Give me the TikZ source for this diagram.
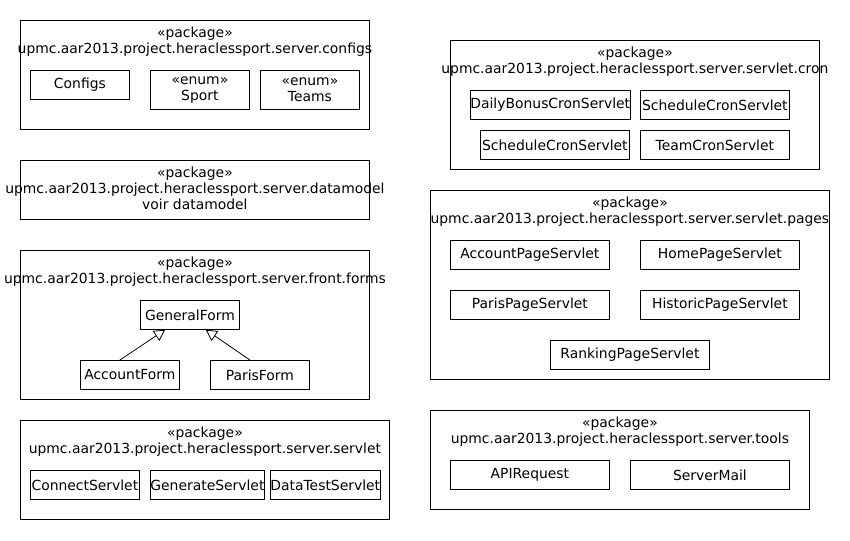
\documentclass[tikz,border=0pt]{standalone}
\usepackage{fontspec}
\setmainfont{DejaVu Sans}
\usetikzlibrary{arrows.meta, positioning}

\begin{document}
\begin{tikzpicture}[x=1pt, y=-1pt, line width=0.8pt,
    font=\fontsize{13.9}{16}\selectfont,
    pkg/.style={draw, anchor=north west, inner sep=0pt},
    pkgname/.style={anchor=north, align=center, inner sep=0pt, yshift=-7pt},
    cls/.style={draw, anchor=north west, inner sep=0pt, align=center},
    inherit/.style={-{Triangle[open, length=11pt, width=12pt]}}]
    \useasboundingbox (0,0) rectangle (850,540);

    % server.configs
    \node[pkg, minimum width=349pt, minimum height=109pt] (configs) at (20,20) {};
    \node[pkgname] (configsName) at (configs.north) {«package»\\upmc.aar2013.project.heraclessport.server.configs};
    \node[cls, minimum width=99pt, minimum height=29pt] (configsCls) at (30,70) {Configs};
    \node[cls, minimum width=99pt, minimum height=39pt] (sport) at (150,70) {«enum»\\Sport};
    \node[cls, minimum width=99pt, minimum height=39pt] (teams) at (260,70) {«enum»\\Teams};

    % server.datamodel
    \node[pkg, minimum width=349pt, minimum height=59pt] (datamodel) at (20,160) {};
    \node[pkgname] (datamodelName) at (datamodel.north) {«package»\\upmc.aar2013.project.heraclessport.server.datamodel\\voir datamodel};

    % server.front.forms
    \node[pkg, minimum width=349pt, minimum height=149pt] (forms) at (20,250) {};
    \node[pkgname] (formsName) at (forms.north) {«package»\\upmc.aar2013.project.heraclessport.server.front.forms};
    \node[cls, minimum width=99pt, minimum height=29pt] (generalForm) at (140,300) {GeneralForm};
    \node[cls, minimum width=99pt, minimum height=29pt] (accountForm) at (80,360) {AccountForm};
    \node[cls, minimum width=99pt, minimum height=29pt] (parisForm) at (210,360) {ParisForm};
    \draw[inherit] ([xshift=-10pt]accountForm.north) -- (generalForm.-149);
    \draw[inherit] ([xshift=-10pt]parisForm.north) -- (generalForm.-43);

    % server.servlet
    \node[pkg, minimum width=369pt, minimum height=99pt] (servlet) at (20,420) {};
    \node[pkgname] (servletName) at (servlet.north) {«package»\\upmc.aar2013.project.heraclessport.server.servlet};
    \node[cls, minimum width=109pt, minimum height=29pt] (connect) at (30,470) {ConnectServlet};
    \node[cls, minimum width=109pt, minimum height=29pt] (generate) at (150,470) {GenerateServlet};
    \node[cls, minimum width=109pt, minimum height=29pt] (dataTest) at (270,470) {DataTestServlet};

    % server.servlet.cron
    \node[pkg, minimum width=369pt, minimum height=129pt] (cron) at (450,40) {};
    \node[pkgname] (cronName) at (cron.north) {«package»\\upmc.aar2013.project.heraclessport.server.servlet.cron};
    \node[cls, minimum width=159pt, minimum height=29pt] (dailyBonus) at (470,90) {DailyBonusCronServlet};
    \node[cls, minimum width=149pt, minimum height=29pt] (scheduleA) at (640,90) {ScheduleCronServlet};
    \node[cls, minimum width=149pt, minimum height=29pt] (scheduleB) at (480,130) {ScheduleCronServlet};
    \node[cls, minimum width=149pt, minimum height=29pt] (teamCron) at (640,130) {TeamCronServlet};

    % server.servlet.pages
    \node[pkg, minimum width=399pt, minimum height=189pt] (pages) at (430,190) {};
    \node[pkgname] (pagesName) at (pages.north) {«package»\\upmc.aar2013.project.heraclessport.server.servlet.pages};
    \node[cls, minimum width=159pt, minimum height=29pt] (accountPage) at (450,240) {AccountPageServlet};
    \node[cls, minimum width=159pt, minimum height=29pt] (homePage) at (640,240) {HomePageServlet};
    \node[cls, minimum width=159pt, minimum height=29pt] (parisPage) at (450,290) {ParisPageServlet};
    \node[cls, minimum width=159pt, minimum height=29pt] (historicPage) at (640,290) {HistoricPageServlet};
    \node[cls, minimum width=159pt, minimum height=29pt] (rankingPage) at (550,340) {RankingPageServlet};

    % server.tools
    \node[pkg, minimum width=379pt, minimum height=99pt] (tools) at (430,410) {};
    \node[pkgname] (toolsName) at (tools.north) {«package»\\upmc.aar2013.project.heraclessport.server.tools};
    \node[cls, minimum width=159pt, minimum height=29pt] (apiRequest) at (450,460) {APIRequest};
    \node[cls, minimum width=159pt, minimum height=29pt] (serverMail) at (630,460) {ServerMail};
\end{tikzpicture}
\end{document}
